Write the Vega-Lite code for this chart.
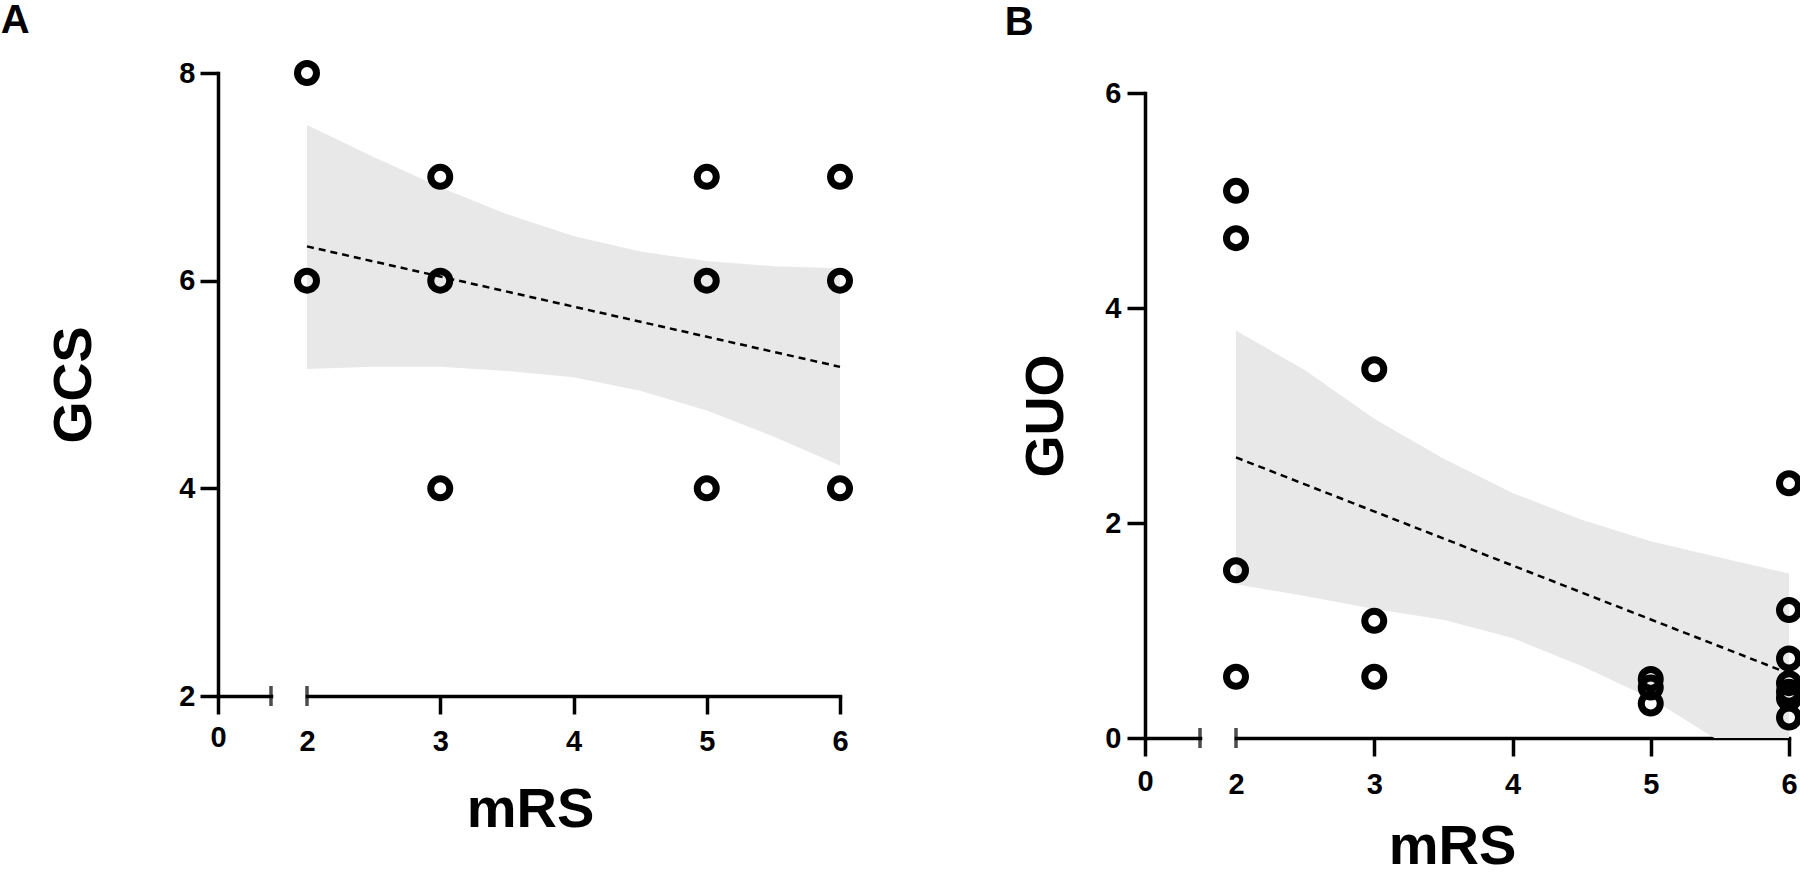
{
  "$schema": "https://vega.github.io/schema/vega-lite/v6.json",
  "background": "white",
  "padding": 0,
  "autosize": {"type": "pad"},
  "datasets": {
    "ptsA": [
      {"mRS": 2, "GCS": 8}, {"mRS": 2, "GCS": 6},
      {"mRS": 3, "GCS": 7}, {"mRS": 3, "GCS": 6}, {"mRS": 3, "GCS": 4},
      {"mRS": 5, "GCS": 7}, {"mRS": 5, "GCS": 6}, {"mRS": 5, "GCS": 4},
      {"mRS": 6, "GCS": 7}, {"mRS": 6, "GCS": 6}, {"mRS": 6, "GCS": 4}
    ],
    "fitA": [{"mRS": 2, "fit": 6.33}, {"mRS": 6, "fit": 5.17}],
    "bandA": [
      {"mRS": 2, "lo": 5.15, "hi": 7.5},
      {"mRS": 2.5, "lo": 5.17, "hi": 7.19},
      {"mRS": 3, "lo": 5.17, "hi": 6.9},
      {"mRS": 3.5, "lo": 5.13, "hi": 6.64},
      {"mRS": 4, "lo": 5.07, "hi": 6.43},
      {"mRS": 4.5, "lo": 4.94, "hi": 6.28},
      {"mRS": 5, "lo": 4.75, "hi": 6.19},
      {"mRS": 5.5, "lo": 4.5, "hi": 6.14},
      {"mRS": 6, "lo": 4.22, "hi": 6.12}
    ],
    "ptsB": [
      {"mRS": 2, "GUO": 5.09}, {"mRS": 2, "GUO": 4.65}, {"mRS": 2, "GUO": 1.56}, {"mRS": 2, "GUO": 0.57},
      {"mRS": 3, "GUO": 3.43}, {"mRS": 3, "GUO": 1.09}, {"mRS": 3, "GUO": 0.57},
      {"mRS": 5, "GUO": 0.55}, {"mRS": 5, "GUO": 0.47}, {"mRS": 5, "GUO": 0.32},
      {"mRS": 6, "GUO": 2.37}, {"mRS": 6, "GUO": 1.19}, {"mRS": 6, "GUO": 0.74}, {"mRS": 6, "GUO": 0.51},
      {"mRS": 6, "GUO": 0.43}, {"mRS": 6, "GUO": 0.37}, {"mRS": 6, "GUO": 0.19}
    ],
    "fitB": [{"mRS": 2, "fit": 2.61}, {"mRS": 6, "fit": 0.6}],
    "bandB": [
      {"mRS": 2, "lo": 1.43, "hi": 3.79},
      {"mRS": 2.5, "lo": 1.32, "hi": 3.42},
      {"mRS": 3, "lo": 1.2, "hi": 2.97},
      {"mRS": 3.5, "lo": 1.1, "hi": 2.6},
      {"mRS": 4, "lo": 0.93, "hi": 2.28},
      {"mRS": 4.5, "lo": 0.67, "hi": 2.03},
      {"mRS": 5, "lo": 0.37, "hi": 1.83},
      {"mRS": 5.46, "lo": 0, "hi": 1.69},
      {"mRS": 6, "lo": 0, "hi": 1.53}
    ],
    "breakA": [{"mRS": 2, "GCS": 2}],
    "stubA": [{"mRS": 0.4, "GCS": 2}],
    "breakB": [{"mRS": 2, "GUO": 0}],
    "stubB": [{"mRS": 0.4, "GUO": 0}],
    "spacer": [{"k": 1}]
  },
  "config": {
    "view": {"stroke": null},
    "axis": {
      "grid": false,
      "domainColor": "#000",
      "domainWidth": 3.5,
      "domainCap": "square",
      "tickColor": "#000",
      "tickWidth": 3.5,
      "tickSize": 18,
      "format": "d",
      "labelFlush": false,
      "labelFont": "Liberation Sans Narrow, Liberation Sans",
      "labelFontWeight": "bold",
      "labelFontSize": 29,
      "labelColor": "#000",
      "titleFont": "Liberation Sans",
      "titleFontWeight": "bold",
      "titleFontSize": 54,
      "titleColor": "#000"
    },
    "title": {"font": "Liberation Sans", "fontWeight": "bold", "fontSize": 40, "color": "#000", "anchor": "start"}
  },
  "hconcat": [
    {
      "title": {"text": "A", "dx": -47, "offset": 9},
      "spacing": 36,
      "bounds": "flush",
      "hconcat": [
        {
          "width": 53,
          "height": 623,
          "data": {"name": "stubA"},
          "mark": {"type": "tick", "orient": "vertical", "size": 20, "thickness": 3.5, "color": "#000"},
          "encoding": {
            "x": {"field": "mRS", "type": "quantitative", "scale": {"domain": [0, 0.4], "nice": false, "zero": false},
                  "axis": {"values": [0], "title": null, "labelPadding": 9}},
            "y": {"field": "GCS", "type": "quantitative", "scale": {"domain": [2, 8], "nice": false, "zero": false},
                  "axis": {"values": [2, 4, 6, 8], "title": "GCS", "titlePadding": 77, "labelPadding": 5}}
          }
        },
        {
          "width": 533,
          "height": 623,
          "encoding": {
            "x": {"field": "mRS", "type": "quantitative", "scale": {"domain": [2, 6], "nice": false, "zero": false},
                  "axis": {"values": [2, 3, 4, 5, 6], "title": "mRS", "labelPadding": 13, "titleX": 223, "titleY": 130, "titleBaseline": "alphabetic", "titleFontSize": 56,
                           "tickOpacity": {"condition": {"test": "datum.value === 2", "value": 0}, "value": 1}}}
          },
          "layer": [
            {
              "data": {"name": "bandA"},
              "mark": {"type": "area", "color": "#e8e8e8", "opacity": 1},
              "encoding": {
                "y": {"field": "lo", "type": "quantitative", "scale": {"domain": [2, 8], "nice": false, "zero": false}, "axis": null},
                "y2": {"field": "hi"}
              }
            },
            {
              "data": {"name": "fitA"},
              "mark": {"type": "line", "color": "#000", "strokeWidth": 2.5, "strokeDash": [7, 5]},
              "encoding": {"y": {"field": "fit", "type": "quantitative", "axis": null}}
            },
            {
              "data": {"name": "ptsA"},
              "mark": {"type": "point", "shape": "circle", "filled": false, "stroke": "#000", "strokeWidth": 7, "size": 361, "opacity": 1},
              "encoding": {"y": {"field": "GCS", "type": "quantitative", "axis": null}}
            },
            {
              "data": {"name": "breakA"},
              "mark": {"type": "tick", "orient": "vertical", "size": 20, "thickness": 3.5, "color": "#000"},
              "encoding": {"y": {"field": "GCS", "type": "quantitative", "axis": null}}
            }
          ]
        }
      ]
    },
    {
      "title": {"text": "B", "dx": -15, "offset": 30},
      "spacing": 19,
      "bounds": "flush",
      "vconcat": [
        {
          "width": 10,
          "height": 1,
          "data": {"name": "spacer"},
          "mark": {"type": "point", "opacity": 0, "size": 1},
          "encoding": {}
        },
        {
          "spacing": 36,
          "bounds": "flush",
          "hconcat": [
            {
              "width": 55,
              "height": 645,
              "data": {"name": "stubB"},
              "mark": {"type": "tick", "orient": "vertical", "size": 20, "thickness": 3.5, "color": "#000"},
              "encoding": {
                "x": {"field": "mRS", "type": "quantitative", "scale": {"domain": [0, 0.4], "nice": false, "zero": false},
                      "axis": {"values": [0], "title": null, "labelPadding": 11}},
                "y": {"field": "GUO", "type": "quantitative", "scale": {"domain": [0, 6], "nice": false, "zero": false},
                      "axis": {"values": [0, 2, 4, 6], "title": "GUO", "titlePadding": 31, "labelPadding": 6}}
              }
            },
            {
              "width": 553,
              "height": 645,
              "encoding": {
                "x": {"field": "mRS", "type": "quantitative", "scale": {"domain": [2, 6], "nice": false, "zero": false},
                      "axis": {"values": [2, 3, 4, 5, 6], "title": "mRS", "labelPadding": 14, "titleX": 216, "titleY": 125, "titleBaseline": "alphabetic", "titleFontSize": 56,
                               "tickOpacity": {"condition": {"test": "datum.value === 2", "value": 0}, "value": 1}}}
              },
              "layer": [
                {
                  "data": {"name": "bandB"},
                  "mark": {"type": "area", "color": "#e8e8e8", "opacity": 1},
                  "encoding": {
                    "y": {"field": "lo", "type": "quantitative", "scale": {"domain": [0, 6], "nice": false, "zero": false}, "axis": null},
                    "y2": {"field": "hi"}
                  }
                },
                {
                  "data": {"name": "fitB"},
                  "mark": {"type": "line", "color": "#000", "strokeWidth": 2.5, "strokeDash": [7, 5]},
                  "encoding": {"y": {"field": "fit", "type": "quantitative", "axis": null}}
                },
                {
                  "data": {"name": "ptsB"},
                  "mark": {"type": "point", "shape": "circle", "filled": false, "stroke": "#000", "strokeWidth": 7, "size": 361, "opacity": 1},
                  "encoding": {"y": {"field": "GUO", "type": "quantitative", "axis": null}}
                },
                {
                  "data": {"name": "breakB"},
                  "mark": {"type": "tick", "orient": "vertical", "size": 20, "thickness": 3.5, "color": "#000"},
                  "encoding": {"y": {"field": "GUO", "type": "quantitative", "axis": null}}
                }
              ]
            }
          ]
        }
      ]
    }
  ],
  "spacing": 140
}
